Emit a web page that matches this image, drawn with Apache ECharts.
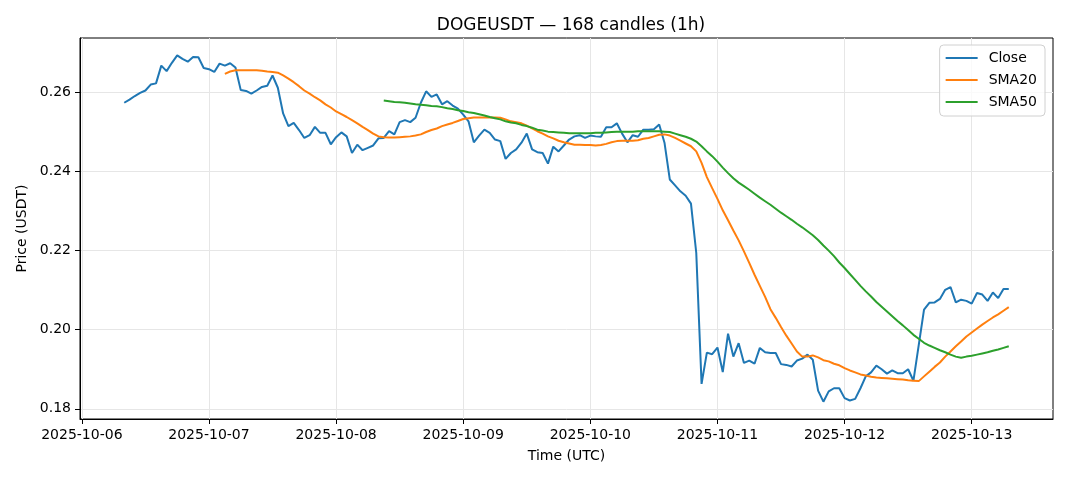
<!DOCTYPE html>
<html><head><meta charset="utf-8">
<script src="https://cdn.jsdelivr.net/npm/echarts@6/dist/echarts.min.js"></script>
<style>html,body{margin:0;padding:0;background:#fff}#c{width:1068px;height:481px}</style>
</head><body><div id="c"></div>
<script>
// ---- data ----
const firstCandle = '2025-10-06T08:00:00Z';
const candleHours = 1;
const closeValues = [
 0.2574,0.2582,0.2591,0.2599,0.2605,0.2620,0.2623,0.2668,0.2654,0.2675,
 0.2694,0.2685,0.2678,0.2690,0.2689,0.2662,0.2659,0.2652,0.2673,0.2668,
 0.2674,0.2663,0.2606,0.2604,0.2597,0.2605,0.2614,0.2617,0.2643,0.2612,
 0.2547,0.2515,0.2523,0.2505,0.2485,0.2492,0.2513,0.2498,0.2498,0.2469,
 0.2487,0.2499,0.2489,0.2447,0.2468,0.2454,0.2460,0.2466,0.2484,0.2485,
 0.2502,0.2494,0.2525,0.2530,0.2525,0.2536,0.2574,0.2603,0.2589,0.2595,
 0.2570,0.2578,0.2567,0.2559,0.2544,0.2527,0.2474,0.2491,0.2506,0.2498,
 0.2481,0.2477,0.2432,0.2447,0.2456,0.2473,0.2496,0.2456,0.2449,0.2447,
 0.2420,0.2463,0.2451,0.2466,0.2481,0.2489,0.2492,0.2485,0.2491,0.2489,
 0.2488,0.2512,0.2512,0.2522,0.2496,0.2474,0.2492,0.2488,0.2506,0.2506,
 0.2507,0.2519,0.2473,0.2380,0.2365,0.2350,0.2339,0.2319,0.2194,0.1863,
 0.1942,0.1938,0.1955,0.1893,0.1990,0.1932,0.1966,0.1916,0.1922,0.1914,
 0.1954,0.1943,0.1941,0.1941,0.1913,0.1911,0.1907,0.1922,0.1927,0.1937,
 0.1924,0.1846,0.1818,0.1844,0.1852,0.1852,0.1827,0.1821,0.1825,0.1852,
 0.1882,0.1892,0.1909,0.1900,0.1889,0.1897,0.1890,0.1890,0.1900,0.1871,
 0.1961,0.2051,0.2068,0.2069,0.2078,0.2101,0.2108,0.2069,0.2076,0.2073,
 0.2066,0.2093,0.2089,0.2073,0.2094,0.2080,0.2103,0.2103
];
const sma20Offset = 19;
const sma20Values = [
 0.2647,0.2653,0.2656,0.2656,0.2656,0.2656,0.2656,0.2655,0.2653,0.2652,0.2650,
 0.2643,0.2635,0.2626,0.2616,0.2605,0.2597,0.2588,0.2580,0.2570,0.2562,
 0.2552,0.2545,0.2538,0.2530,0.2522,0.2513,0.2505,0.2496,0.2489,0.2487,
 0.2486,0.2486,0.2487,0.2488,0.2489,0.2491,0.2494,0.2500,0.2505,0.2509,
 0.2515,0.2519,0.2523,0.2528,0.2533,0.2535,0.2537,0.2537,0.2537,0.2537,
 0.2537,0.2536,0.2532,0.2527,0.2525,0.2522,0.2516,0.2509,0.2502,0.2496,
 0.2489,0.2484,0.2478,0.2474,0.2471,0.2468,0.2468,0.2467,0.2467,0.2466,
 0.2467,0.2470,0.2474,0.2477,0.2478,0.2478,0.2478,0.2479,0.2483,0.2485,
 0.2489,0.2493,0.2494,0.2491,0.2485,0.2478,0.2471,0.2464,0.2451,0.2422,
 0.2386,0.2358,0.2331,0.2302,0.2277,0.2251,0.2226,0.2198,0.2169,0.2139,
 0.2111,0.2083,0.2052,0.2030,0.2007,0.1985,0.1965,0.1945,0.1932,0.1932,
 0.1935,0.1930,0.1923,0.1920,0.1914,0.1910,0.1903,0.1897,0.1892,0.1887,
 0.1884,0.1881,0.1879,0.1878,0.1877,0.1876,0.1875,0.1874,0.1872,0.1871,
 0.1870,0.1882,0.1894,0.1906,0.1917,0.1932,0.1945,0.1958,0.1970,0.1983,
 0.1993,0.2003,0.2013,0.2022,0.2031,0.2039,0.2048,0.2057
];
const sma50Offset = 49;
const sma50Values = [
 0.2580,
 0.2578,0.2576,0.2575,0.2574,0.2572,0.2570,0.2569,0.2568,0.2566,0.2565,
 0.2563,0.2560,0.2558,0.2555,0.2553,0.2550,0.2548,0.2545,0.2542,0.2538,
 0.2535,0.2532,0.2527,0.2524,0.2522,0.2518,0.2515,0.2511,0.2506,0.2504,
 0.2501,0.2500,0.2499,0.2498,0.2497,0.2497,0.2497,0.2497,0.2497,0.2498,
 0.2498,0.2499,0.2500,0.2501,0.2501,0.2501,0.2501,0.2502,0.2502,0.2502,
 0.2502,0.2502,0.2501,0.2500,0.2496,0.2492,0.2488,0.2483,0.2476,0.2464,
 0.2451,0.2439,0.2425,0.2410,0.2396,0.2383,0.2372,0.2363,0.2354,0.2344,
 0.2334,0.2325,0.2316,0.2306,0.2296,0.2287,0.2278,0.2268,0.2259,0.2249,
 0.2239,0.2227,0.2213,0.2200,0.2186,0.2170,0.2156,0.2141,0.2126,0.2111,
 0.2097,0.2084,0.2070,0.2058,0.2046,0.2034,0.2022,0.2011,0.1999,0.1987,
 0.1977,0.1967,0.1960,0.1954,0.1948,0.1943,0.1937,0.1932,0.1929,0.1932,
 0.1934,0.1937,0.1940,0.1943,0.1947,0.1950,0.1954,0.1958
];
const xTickLabels = ['2025-10-06','2025-10-07','2025-10-08','2025-10-09','2025-10-10','2025-10-11','2025-10-12','2025-10-13'];
const yTickValues = [0.18,0.20,0.22,0.24,0.26];

// ---- build ----
const HOUR = 3600000;
const t0 = Date.parse(firstCandle);
const tOf = i => t0 + i * candleHours * HOUR;
const closeData = closeValues.map((v, i) => [tOf(i), v]);
const sma20Data = sma20Values.map((v, i) => [tOf(i + sma20Offset), v]);
const sma50Data = sma50Values.map((v, i) => [tOf(i + sma50Offset), v]);
const tEnd = tOf(closeValues.length - 1);
const xPad = (tEnd - t0) * 0.05;
const xTicks = xTickLabels.map(s => Date.parse(s + 'T00:00:00Z'));
const allVals = closeValues.concat(sma20Values, sma50Values);
const vMin = Math.min(...allVals), vMax = Math.max(...allVals);
const yPad = (vMax - vMin) * 0.05;

const FONT = 'DejaVu Sans';
const chart = echarts.init(document.getElementById('c'), null, {renderer: 'canvas'});
chart.setOption({
  animation: false,
  backgroundColor: '#fff',
  textStyle: {fontFamily: FONT},
  title: {
    text: 'DOGEUSDT — 168 candles (1h)',
    left: 566, top: 12, textAlign: 'center',
    textStyle: {fontFamily: FONT, fontSize: 17, fontWeight: 'normal', color: '#000'}
  },
  legend: {
    orient: 'vertical', right: 23, top: 45,
    padding: [5, 8, 6, 6], itemGap: 6,
    itemWidth: 32, itemHeight: 2, icon: 'rect',
    borderColor: '#d0d0d0', borderWidth: 1, borderRadius: 4,
    backgroundColor: 'rgba(255,255,255,0.8)',
    textStyle: {fontFamily: FONT, fontSize: 14, color: '#000', lineHeight: 16, padding: [0, 0, 0, 6]},
    data: ['Close', 'SMA20', 'SMA50']
  },
  grid: {left: 80, right: 15, top: 38, bottom: 62, show: true, borderColor: '#000', borderWidth: 1, containLabel: false},
  xAxis: {
    type: 'value', min: t0 - xPad, max: tEnd + xPad,
    name: 'Time (UTC)', nameLocation: 'middle', nameGap: 30,
    nameTextStyle: {fontFamily: FONT, fontSize: 14, color: '#000'},
    axisLine: {show: true, lineStyle: {color: '#000', width: 1}},
    axisTick: {show: true, length: 5, lineStyle: {color: '#000'}, customValues: xTicks},
    axisLabel: {customValues: xTicks, margin: 9, fontFamily: FONT, fontSize: 14, color: '#000',
      formatter: v => new Date(v).toISOString().slice(0, 10)},
    splitLine: {show: true, lineStyle: {color: '#e6e6e6', width: 1}}
  },
  yAxis: {
    type: 'value', min: vMin - yPad, max: vMax + yPad,
    name: 'Price (USDT)', nameLocation: 'middle', nameGap: 50,
    nameTextStyle: {fontFamily: FONT, fontSize: 14, color: '#000'},
    axisLine: {show: true, lineStyle: {color: '#000', width: 1}},
    axisTick: {show: true, length: 5, lineStyle: {color: '#000'}, customValues: yTickValues},
    axisLabel: {customValues: yTickValues, margin: 9, fontFamily: FONT, fontSize: 14, color: '#000',
      formatter: v => v.toFixed(2)},
    splitLine: {show: true, lineStyle: {color: '#e6e6e6', width: 1}}
  },
  series: [
    {name: 'Close', type: 'line', data: closeData, showSymbol: false, symbol: 'none',
     lineStyle: {color: '#1f77b4', width: 2}, itemStyle: {color: '#1f77b4'}, z: 3},
    {name: 'SMA20', type: 'line', data: sma20Data, showSymbol: false, symbol: 'none',
     lineStyle: {color: '#ff7f0e', width: 2}, itemStyle: {color: '#ff7f0e'}, z: 4},
    {name: 'SMA50', type: 'line', data: sma50Data, showSymbol: false, symbol: 'none',
     lineStyle: {color: '#2ca02c', width: 2}, itemStyle: {color: '#2ca02c'}, z: 5}
  ]
});
</script></body></html>
